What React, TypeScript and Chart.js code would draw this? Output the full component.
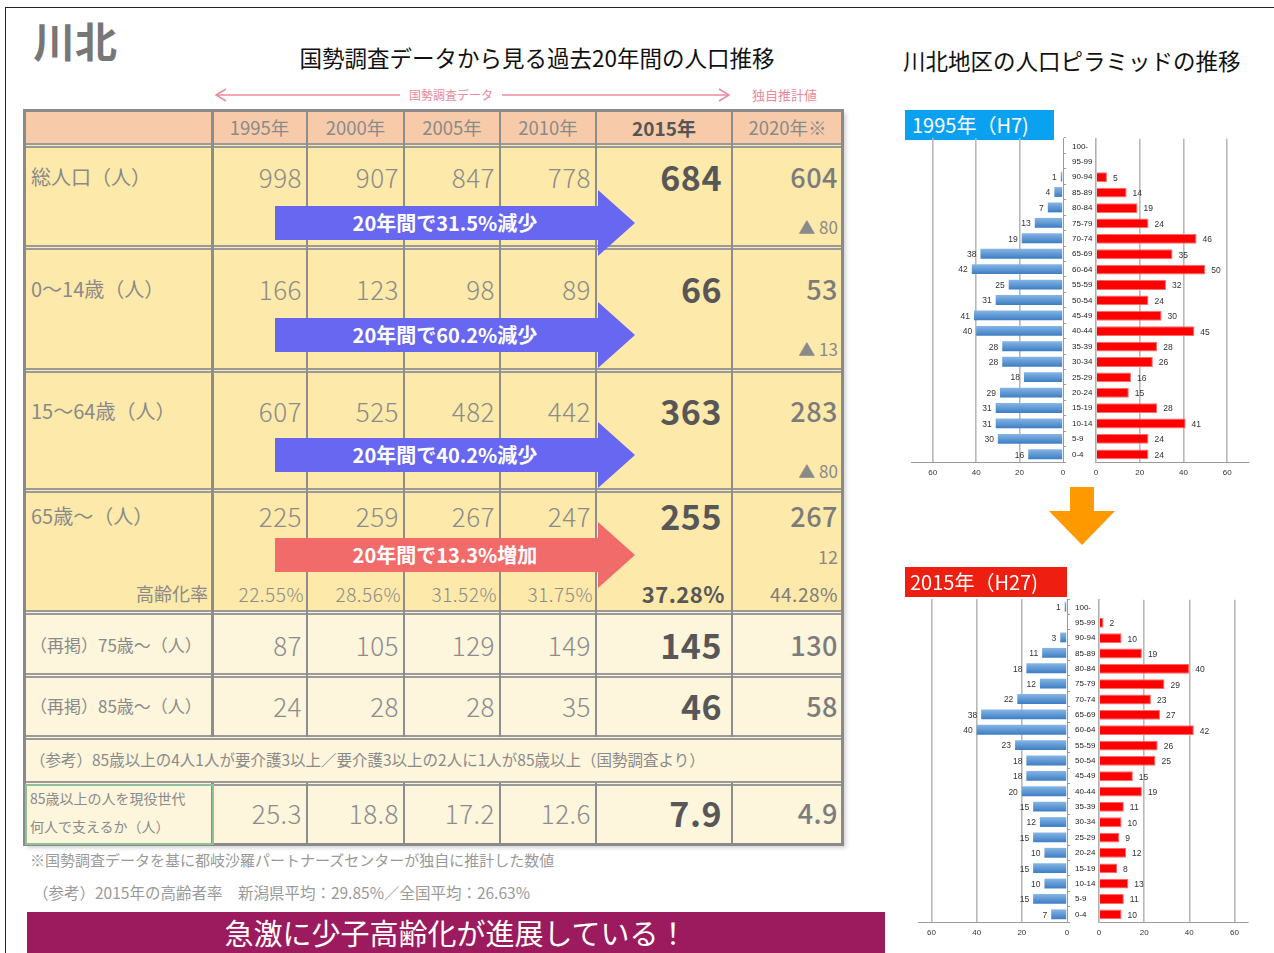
import React, { useEffect, useRef } from "react";
import { Chart, registerables } from "chart.js";
Chart.register(...registerables);

// ---------- pyramid data ----------
const ageGroups = ["100-","95-99","90-94","85-89","80-84","75-79","70-74","65-69","60-64","55-59","50-54","45-49","40-44","35-39","30-34","25-29","20-24","15-19","10-14","5-9","0-4"];
const male1995 = [null,null,1,4,7,13,19,38,42,25,31,41,40,28,28,18,29,31,31,30,16];
const female1995 = [null,null,5,14,19,24,46,35,50,32,24,30,45,28,26,16,15,28,41,24,24];
const male2015 = [1,null,3,11,18,12,22,38,40,23,18,18,20,15,12,15,10,15,10,15,7];
const female2015 = [null,2,10,19,40,29,23,27,42,26,25,15,19,11,10,9,12,8,13,11,10];
const axisTickValues = [0,20,40,60];

// ---------- table data ----------
const yearLabels = ["1995年","2000年","2005年","2010年","2015年","2020年※"];
const totalPop = [998,907,847,778,684,604];
const pop0to14 = [166,123,98,89,66,53];
const pop15to64 = [607,525,482,442,363,283];
const pop65plus = [225,259,267,247,255,267];
const agingRate = [22.55,28.56,31.52,31.75,37.28,44.28];
const pop75plus = [87,105,129,149,145,130];
const pop85plus = [24,28,28,35,46,58];
const supportRatio = [25.3,18.8,17.2,12.6,7.9,4.9];

const FONT = '"Noto Sans CJK JP", "Noto Sans", sans-serif';

type PanelProps = {
  values: (number | null)[];
  side: "left" | "right";
  max: number;
  left: number;
  top: number;
  width: number;
  height: number;
  padLeft: number;
  padRight: number;
  axisW: number;
};

function BarPanel(p: PanelProps) {
  const ref = useRef<HTMLCanvasElement>(null);
  useEffect(() => {
    const isLeft = p.side === "left";
    const labelPlugin = {
      id: "valueLabels",
      afterDatasetsDraw(chart: any) {
        const ctx = chart.ctx;
        const meta = chart.getDatasetMeta(0);
        ctx.save();
        ctx.font = '8.5px "Liberation Sans", Arial, sans-serif';
        ctx.fillStyle = "#333";
        ctx.textBaseline = "middle";
        meta.data.forEach((el: any, i: number) => {
          const v = chart.data.datasets[0].data[i];
          if (v == null) return;
          if (isLeft) {
            ctx.textAlign = "right";
            ctx.fillText(String(v), el.x - 4, el.y + 1);
          } else {
            ctx.textAlign = "left";
            ctx.fillText(String(v), el.x + 6, el.y + 1);
          }
        });
        ctx.restore();
      },
    };
    const blueFill = (c: any) => {
      const chart = c.chart;
      const ys = chart.scales && chart.scales.y;
      if (!ys || c.dataIndex == null) return "#5b9bd5";
      const yc = ys.getPixelForValue(c.dataIndex);
      const h = (ys.height / ageGroups.length) * 0.64;
      if (!isFinite(yc) || !isFinite(h) || h <= 0) return "#5b9bd5";
      const g = chart.ctx.createLinearGradient(0, yc - h / 2, 0, yc + h / 2);
      g.addColorStop(0, "#86b6e6");
      g.addColorStop(1, "#3d7dc3");
      return g;
    };
    const chart = new Chart(ref.current as HTMLCanvasElement, {
      type: "bar",
      data: {
        labels: ageGroups,
        datasets: [
          {
            data: p.values as any,
            backgroundColor: isLeft ? (blueFill as any) : "#ff0000",
            borderColor: isLeft ? "rgba(0,0,0,0)" : "#ff6a6a",
            borderWidth: isLeft ? 0 : 1,
            barPercentage: 0.64,
            categoryPercentage: 1,
          },
        ],
      },
      options: {
        indexAxis: "y",
        animation: false,
        responsive: false,
        maintainAspectRatio: false,
        layout: { padding: { top: 4, left: p.padLeft, right: p.padRight, bottom: 0 } },
        plugins: { legend: { display: false }, tooltip: { enabled: false } },
        scales: {
          x: {
            reverse: isLeft,
            min: 0,
            max: p.max,
            afterBuildTicks: (s: any) => {
              s.ticks = axisTickValues.map((v) => ({ value: v }));
            },
            afterFit: (s: any) => {
              s.height = 20;
            },
            grid: {
              color: (c: any) => (c.tick && c.tick.value === 0 ? "rgba(0,0,0,0)" : "#b9b9b9"),
              lineWidth: 1.6,
              drawTicks: false,
            },
            border: { display: true, color: "#9a9a9a", width: 1 },
            ticks: {
              font: { size: 8, family: '"Liberation Sans", Arial, sans-serif' },
              color: "#333",
              padding: 6,
              maxRotation: 0,
            },
          },
          y: {
            position: isLeft ? "right" : "left",
            afterFit: (s: any) => {
              s.width = p.axisW;
            },
            grid: {
              drawOnChartArea: false,
              drawTicks: isLeft,
              tickLength: 3,
              color: "#9a9a9a",
            },
            border: { display: true, color: isLeft ? "#9a9a9a" : "#b0b0b0", width: isLeft ? 1 : 1.6 },
            ticks: {
              display: !isLeft,
              crossAlign: "far",
              padding: 0,
              autoSkip: false,
              font: { size: 8, family: '"Liberation Sans", Arial, sans-serif' },
              color: "#222",
            },
          },
        },
      } as any,
      plugins: [labelPlugin],
    });
    return () => chart.destroy();
  }, []);
  return (
    <canvas
      ref={ref}
      width={p.width}
      height={p.height}
      style={{ position: "absolute", left: p.left, top: p.top, width: p.width, height: p.height }}
    />
  );
}

const abs = (s: React.CSSProperties): React.CSSProperties => ({ position: "absolute", ...s });

function Txt(props: {
  x: number;
  cy: number;
  w?: number;
  align?: "left" | "right" | "center";
  size: number;
  color?: string;
  weight?: number;
  children: React.ReactNode;
  ls?: number;
}) {
  const h = props.size * 1.6;
  return (
    <div
      style={abs({
        left: props.x,
        top: props.cy - h / 2,
        width: props.w,
        height: h,
        lineHeight: h + "px",
        fontSize: props.size,
        color: props.color || "#8a8a8a",
        fontWeight: props.weight || 400,
        textAlign: props.align || "left",
        whiteSpace: "nowrap",
        letterSpacing: props.ls || 0,
      })}
    >
      {props.children}
    </div>
  );
}

const cols = [24, 212, 307, 404, 500, 596, 732, 843];
const rowLines = [145, 247, 370, 490, 612, 675, 737, 783];

function NumRow({ vals, cy, fmt, small }: { vals: number[]; cy: number; fmt?: (v: number) => string; small?: boolean }) {
  return (
    <>
      {vals.map((v, i) => {
        const l = cols[i + 1];
        const r = cols[i + 2];
        const s = fmt ? fmt(v) : String(v);
        let size = small ? 19 : 26;
        let weight = 300;
        let color = "#8c8c8c";
        let pad = small ? 3 : 5;
        if (i === 4) {
          size = small ? 22 : 34;
          weight = 700;
          color = "#575757";
          pad = small ? 7 : 10;
        } else if (i === 5) {
          size = small ? 19 : 27;
          weight = small ? 400 : 500;
          color = "#7c7c7c";
          pad = 5;
        }
        return (
          <Txt key={i} x={l} w={r - l - pad} cy={cy} align="right" size={size} weight={weight} color={color} ls={0.5}>
            {s}
          </Txt>
        );
      })}
    </>
  );
}

function Arrow({ cy, color, text }: { cy: number; color: string; text: string }) {
  const b0 = cy - 17;
  const b1 = cy + 17;
  const pts = `275,${b0} 598,${b0} 598,${cy - 33} 635,${cy} 598,${cy + 33} 598,${b1} 275,${b1}`;
  return (
    <>
      <svg style={abs({ left: 0, top: 0, width: 1274, height: 953 })} width={1274} height={953}>
        <polygon points={pts} fill={color} />
      </svg>
      <Txt x={275} w={340} cy={cy} align="center" size={20} weight={700} color="#ffffff">
        {text}
      </Txt>
    </>
  );
}

export default function App() {
  return (
    <div style={{ position: "fixed", left: 0, top: 0, width: 1274, height: 953, overflow: "hidden", background: "#fff", fontFamily: FONT }}>
      {/* slide frame */}
      <div style={abs({ left: 5, top: 7, width: 1400, height: 1100, border: "1.5px solid #222" })} />

      {/* headings */}
      <Txt x={33} cy={40} size={42} weight={700} color="#777">川北</Txt>
      <Txt x={287} w={500} cy={57} align="center" size={22.5} color="#111">国勢調査データから見る過去20年間の人口推移</Txt>
      <Txt x={903} cy={60} size={22.5} color="#111">川北地区の人口ピラミッドの推移</Txt>

      {/* annotation above table */}
      <svg style={abs({ left: 0, top: 0, width: 1274, height: 953 })} width={1274} height={953}>
        <line x1={216} y1={95} x2={729} y2={95} stroke="#ec8b9b" strokeWidth={1.5} />
        <polyline points="226,89 216,95 226,101" fill="none" stroke="#ec8b9b" strokeWidth={1.5} />
        <polyline points="719,89 729,95 719,101" fill="none" stroke="#ec8b9b" strokeWidth={1.5} />
        <rect x={400} y={86} width={102} height={18} fill="#fff" />
      </svg>
      <Txt x={402} w={98} cy={95} align="center" size={12} color="#e98a9a">国勢調査データ</Txt>
      <Txt x={752} cy={95} size={13} color="#e98a9a">独自推計値</Txt>

      {/* table backgrounds */}
      <div style={abs({ left: 24, top: 110, width: 819, height: 735, boxShadow: "3px 3px 4px rgba(0,0,0,0.18)" })} />
      <div style={abs({ left: 24, top: 110, width: 819, height: 35, background: "#f7caa9" })} />
      <div style={abs({ left: 24, top: 145, width: 819, height: 467, background: "#fde9a9" })} />
      <div style={abs({ left: 24, top: 612, width: 819, height: 233, background: "#fdf5dc" })} />

      {/* table lines */}
      {rowLines.map((y) => (
        <div key={y} style={abs({ left: 24, top: y - 2, width: 819, height: 1, borderTop: "2px solid #9a9a9a", borderBottom: "2px solid #9a9a9a" })} />
      ))}
      {cols.slice(1, 7).map((x, i) => (
        <React.Fragment key={x}>
          <div style={abs({ left: x - 1, top: 110, width: i === 0 ? 3 : 2, height: 627, background: "#8d8d8d" })} />
          <div style={abs({ left: x - 1, top: 783, width: i === 0 ? 3 : 2, height: 62, background: "#8d8d8d" })} />
        </React.Fragment>
      ))}
      <div style={abs({ left: 23, top: 109, width: 821, height: 737, border: "3px solid #8a8a8a", boxSizing: "border-box" })} />
      <div style={abs({ left: 25, top: 784, width: 189, height: 61, border: "2px solid #8fbf9b", boxSizing: "border-box" })} />

      {/* arrows */}
      <Arrow cy={223} color="#6767f2" text="20年間で31.5%減少" />
      <Arrow cy={335} color="#6767f2" text="20年間で60.2%減少" />
      <Arrow cy={455} color="#6767f2" text="20年間で40.2%減少" />
      <Arrow cy={555} color="#f26b6b" text="20年間で13.3%増加" />

      {/* header row */}
      {yearLabels.map((y, i) => (
        <Txt key={y} x={cols[i + 1]} w={cols[i + 2] - cols[i + 1]} cy={128} align="center" size={i === 4 ? 19 : 18.5} weight={i === 4 ? 700 : 400} color={i === 4 ? "#555" : "#8a8a8a"}>
          {y}
        </Txt>
      ))}

      {/* row labels */}
      <Txt x={31} cy={177} size={20}>総人口（人）</Txt>
      <Txt x={31} cy={289} size={20}>0～14歳（人）</Txt>
      <Txt x={31} cy={411} size={20}>15～64歳（人）</Txt>
      <Txt x={31} cy={516} size={20}>65歳～（人）</Txt>
      <Txt x={24} w={184} cy={593} align="right" size={18}>高齢化率</Txt>
      <Txt x={30} cy={645} size={17}>（再掲）75歳～（人）</Txt>
      <Txt x={30} cy={706} size={17}>（再掲）85歳～（人）</Txt>
      <Txt x={30} cy={759} size={15.5}>（参考）85歳以上の4人1人が要介護3以上／要介護3以上の2人に1人が85歳以上（国勢調査より）</Txt>
      <Txt x={30} cy={798} size={14}>85歳以上の人を現役世代</Txt>
      <Txt x={30} cy={826} size={14}>何人で支えるか（人）</Txt>

      {/* numbers */}
      <NumRow vals={totalPop} cy={177} />
      <NumRow vals={pop0to14} cy={289} />
      <NumRow vals={pop15to64} cy={411} />
      <NumRow vals={pop65plus} cy={516} />
      <NumRow vals={agingRate} cy={594} small fmt={(v) => v.toFixed(2) + "%"} />
      <NumRow vals={pop75plus} cy={645} />
      <NumRow vals={pop85plus} cy={706} />
      <NumRow vals={supportRatio} cy={813} fmt={(v) => v.toFixed(1)} />

      <Txt x={732} w={106} cy={227} align="right" size={17}>▲ 80</Txt>
      <Txt x={732} w={106} cy={349} align="right" size={17}>▲ 13</Txt>
      <Txt x={732} w={106} cy={471} align="right" size={17}>▲ 80</Txt>
      <Txt x={732} w={106} cy={556} align="right" size={18}>12</Txt>

      {/* footnotes */}
      <Txt x={30} cy={860} size={15} color="#9a9a9a">※国勢調査データを基に都岐沙羅パートナーズセンターが独自に推計した数値</Txt>
      <Txt x={33} cy={892} size={15.5} color="#9a9a9a">（参考）2015年の高齢者率　新潟県平均：29.85%／全国平均：26.63%</Txt>

      {/* banner */}
      <div style={abs({ left: 27, top: 912, width: 858, height: 41, background: "#9b1b5e" })} />
      <Txt x={27} w={858} cy={932} align="center" size={29} color="#ffffff">急激に少子高齢化が進展している！</Txt>

      {/* pyramid 1995 */}
      <div style={abs({ left: 905, top: 110, width: 149, height: 30, background: "#0aa2f0" })} />
      <Txt x={912} cy={125} size={20} color="#fff">1995年（H7)</Txt>
      <BarPanel values={male1995} side="left" max={70} left={905} top={134} width={162} height={348} padLeft={6} padRight={0} axisW={4} />
      <BarPanel values={female1995} side="right" max={70} left={1068} top={134} width={185} height={348} padLeft={4} padRight={4} axisW={24} />

      {/* orange arrow */}
      <svg style={abs({ left: 0, top: 0, width: 1274, height: 953 })} width={1274} height={953}>
        <polygon points="1070,487 1094,487 1094,511 1115,511 1082,545 1049,511 1070,511" fill="#ff9900" />
      </svg>

      {/* pyramid 2015 */}
      <div style={abs({ left: 905, top: 567, width: 162, height: 30, background: "#ee1f10" })} />
      <Txt x={910} cy={582} size={20} color="#fff">2015年（H27)</Txt>
      <BarPanel values={male2015} side="left" max={66} left={912} top={595} width={159} height={347} padLeft={6} padRight={0} axisW={4} />
      <BarPanel values={female2015} side="right" max={66} left={1071} top={595} width={181} height={347} padLeft={4} padRight={4} axisW={24} />
    </div>
  );
}
